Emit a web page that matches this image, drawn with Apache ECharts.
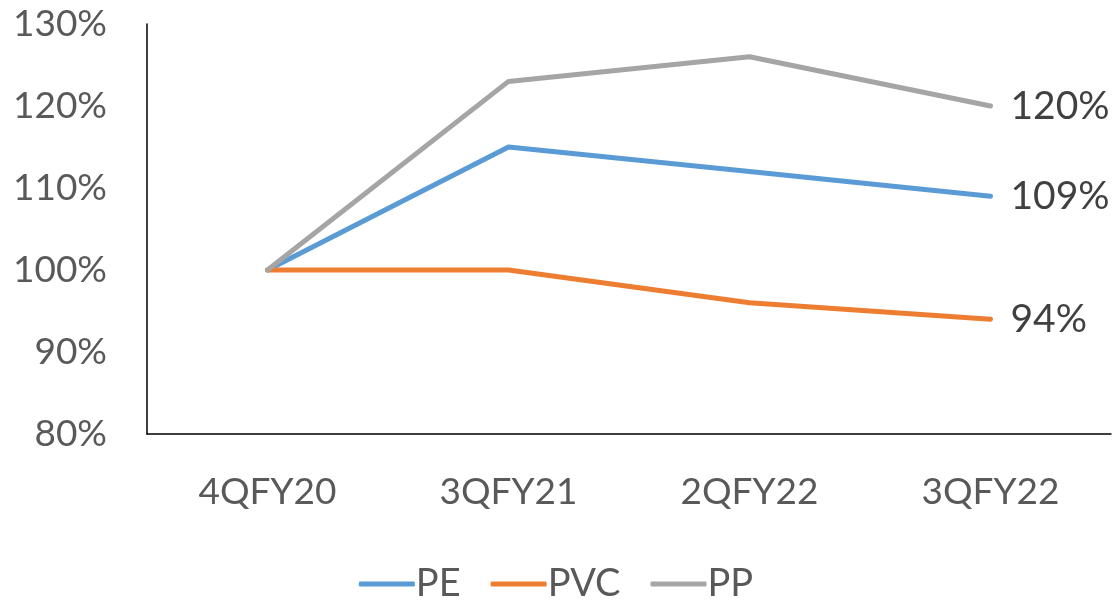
<!DOCTYPE html>
<html><head><meta charset="utf-8">
<script src="https://cdn.jsdelivr.net/npm/echarts@6/dist/echarts.min.js"></script>
<style>html,body{margin:0;padding:0;background:#fff}#c{width:1112px;height:606px}</style>
</head><body><div id="c"></div>
<script>
const categories = ['4QFY20','3QFY21','2QFY22','3QFY22'];
const pe  = [100, 115, 112, 109];
const pvc = [100, 100, 96, 94];
const pp  = [100, 123, 126, 120];
const yTicks = [80, 90, 100, 110, 120, 130];

const FONT = 'Lato';
function mk(name, data, color){
  return {
    name, type:'line', data, symbol:'none', smooth:false,
    lineStyle:{color, width:5, cap:'round', join:'round'},
    itemStyle:{color},
    endLabel:{show:true, distance:20, fontFamily:FONT, fontSize:39, color:'#404040',
      formatter:p=> p.value+'%'},
    emphasis:{disabled:true}, animation:false
  };
}
const chart = echarts.init(document.getElementById('c'));
chart.setOption({
  animation:false,
  grid:{left:147, right:1, top:24, bottom:172},
  legend:{bottom:-2, left:'center', itemWidth:56, itemHeight:5, itemGap:30, icon:'roundRect',
    textStyle:{fontFamily:FONT, fontSize:38, color:'#595959', padding:[0,0,0,-4]}},
  xAxis:{type:'category', data:categories, boundaryGap:true,
    axisLine:{lineStyle:{color:'#000', width:1.5}}, axisTick:{show:false},
    axisLabel:{fontFamily:FONT, fontSize:37, color:'#595959', margin:40}},
  yAxis:{type:'value', min:yTicks[0], max:yTicks[yTicks.length-1], interval:10,
    axisLine:{show:true, lineStyle:{color:'#000', width:1.5}}, axisTick:{show:false},
    splitLine:{show:false},
    axisLabel:{fontFamily:FONT, fontSize:37, color:'#595959', margin:40, formatter:v=>v+'%'}},
  series:[mk('PE',pe,'#5B9BD5'), mk('PVC',pvc,'#ED7D31'), mk('PP',pp,'#A5A5A5')]
});
</script></body></html>
